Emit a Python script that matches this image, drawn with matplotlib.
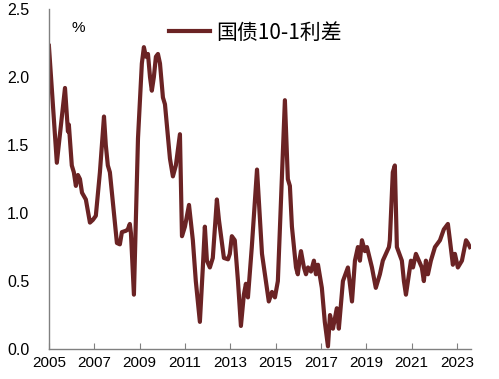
import matplotlib
matplotlib.use("Agg")
import matplotlib.pyplot as plt

plt.rcParams['font.family'] = ['Noto Sans CJK SC', 'DejaVu Sans']

# decimal year, spread (%)
years = [2005.00, 2005.35, 2005.71, 2005.84, 2005.88, 2006.01, 2006.10, 2006.19, 2006.28, 2006.37,
         2006.46, 2006.63, 2006.81, 2006.94, 2007.07, 2007.25, 2007.43, 2007.51, 2007.60, 2007.69,
         2007.87, 2008.00, 2008.13, 2008.22, 2008.40, 2008.48, 2008.57, 2008.62, 2008.75, 2008.93,
         2009.10, 2009.19, 2009.28, 2009.37, 2009.46, 2009.54, 2009.63, 2009.72, 2009.81, 2009.90,
         2010.03, 2010.12, 2010.34, 2010.47, 2010.60, 2010.78, 2010.87, 2011.00, 2011.18, 2011.35,
         2011.48, 2011.66, 2011.79, 2011.88, 2011.97, 2012.10, 2012.23, 2012.41, 2012.50, 2012.72,
         2012.90, 2012.98, 2013.07, 2013.20, 2013.34, 2013.47, 2013.60, 2013.69, 2013.78, 2013.95,
         2014.18, 2014.31, 2014.40, 2014.57, 2014.70, 2014.84, 2014.97, 2015.10, 2015.41, 2015.54,
         2015.63, 2015.72, 2015.90, 2015.98, 2016.07, 2016.12, 2016.25, 2016.34, 2016.43, 2016.56,
         2016.69, 2016.78, 2016.87, 2017.04, 2017.17, 2017.31, 2017.40, 2017.53, 2017.70, 2017.79,
         2017.97, 2018.19, 2018.37, 2018.50, 2018.63, 2018.72, 2018.81, 2018.94, 2019.03, 2019.25,
         2019.42, 2019.60, 2019.73, 2020.00, 2020.04, 2020.17, 2020.26, 2020.35, 2020.57, 2020.66,
         2020.75, 2020.97, 2021.06, 2021.19, 2021.32, 2021.45, 2021.54, 2021.63, 2021.72, 2021.85,
         2022.03, 2022.25, 2022.42, 2022.60, 2022.69, 2022.82, 2022.91, 2023.04, 2023.22, 2023.40,
         2023.48, 2023.57]
spread = [2.23, 1.37, 1.92, 1.60, 1.65, 1.35, 1.30, 1.20, 1.28, 1.25,
          1.15, 1.10, 0.93, 0.95, 0.98, 1.30, 1.71, 1.50, 1.35, 1.30,
          1.00, 0.78, 0.77, 0.86, 0.87, 0.88, 0.92, 0.85, 0.40, 1.55,
          2.10, 2.22, 2.15, 2.17, 2.00, 1.90, 2.00, 2.15, 2.17, 2.10,
          1.85, 1.80, 1.40, 1.27, 1.35, 1.58, 0.83, 0.90, 1.06, 0.80,
          0.50, 0.20, 0.60, 0.90, 0.65, 0.60, 0.67, 1.10, 0.95, 0.67,
          0.66, 0.70, 0.83, 0.80, 0.50, 0.17, 0.40, 0.48, 0.38, 0.75,
          1.32, 0.95, 0.70, 0.50, 0.35, 0.42, 0.38, 0.50, 1.83, 1.25,
          1.20, 0.90, 0.60, 0.55, 0.67, 0.72, 0.60, 0.55, 0.60, 0.57,
          0.65, 0.55, 0.62, 0.45, 0.20, 0.02, 0.25, 0.15, 0.30, 0.15,
          0.50, 0.60, 0.35, 0.65, 0.75, 0.65, 0.80, 0.72, 0.75, 0.60,
          0.45, 0.55, 0.65, 0.75, 0.80, 1.30, 1.35, 0.75, 0.65, 0.50,
          0.40, 0.65, 0.60, 0.70, 0.65, 0.60, 0.50, 0.65, 0.55, 0.65,
          0.75, 0.80, 0.88, 0.92, 0.80, 0.62, 0.70, 0.60, 0.65, 0.80,
          0.78, 0.75]

xticks = [2005, 2007, 2009, 2011, 2013, 2015, 2017, 2019, 2021, 2023]
yticks = [0.0, 0.5, 1.0, 1.5, 2.0, 2.5]

fig = plt.figure(figsize=(4.99, 3.79), dpi=100)
ax = fig.add_axes([0.098, 0.079, 0.845, 0.897])

ax.plot(years, spread, color='#6b2324', lw=3.0, label='国债10-1利差', solid_joinstyle='round')

ax.set_xlim(2005, 2023.6)
ax.set_ylim(0, 2.5)
ax.set_xticks(xticks)
ax.set_xticklabels([str(y) for y in xticks])
ax.set_yticks(yticks)
ax.set_yticklabels([f'{v:.1f}' for v in yticks])

for s in ['top', 'right']:
    ax.spines[s].set_visible(False)
for s in ['left', 'bottom']:
    ax.spines[s].set_color('#808080')
    ax.spines[s].set_linewidth(1.0)

ax.tick_params(axis='x', direction='in', length=4, color='#808080', pad=5, labelsize=11)
ax.tick_params(axis='y', length=0, pad=14, labelsize=11.5)
for lab in ax.get_xticklabels() + ax.get_yticklabels():
    lab.set_family('Liberation Sans')

ax.text(0.07, 0.965, '%', transform=ax.transAxes, fontsize=11, va='top', ha='center',
        family='Liberation Sans')

ax.legend(loc='upper left', bbox_to_anchor=(0.255, 1.0), frameon=False, fontsize=15,
          handlelength=1.95, handletextpad=0.3, borderaxespad=0.2)

fig.savefig('out.png', dpi=100)
